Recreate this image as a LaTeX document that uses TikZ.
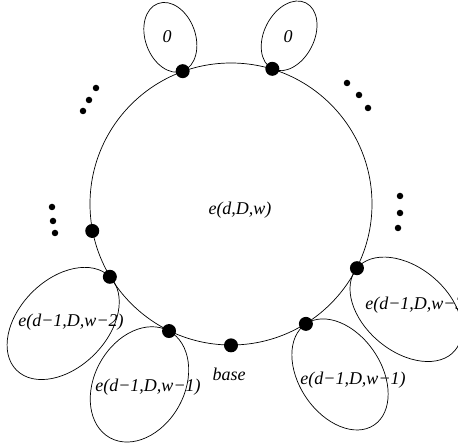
\documentclass[tikz,border=0pt]{standalone}
\usepackage{fontspec}
\setmainfont{Liberation Serif}
\usetikzlibrary{shapes.geometric, calc}

\tikzset{
  bigdot/.style={circle, fill=black, minimum size=14pt, inner sep=0pt},
  smalldot/.style={circle, fill=black, minimum size=6.5pt, inner sep=0pt},
  lobe/.style={draw, ellipse, inner sep=0pt, line width=0.7pt},
  lab/.style={font=\fontsize{18}{20}\selectfont\itshape, inner sep=0pt}
}

\begin{document}
\begin{tikzpicture}[x=1pt, y=1pt, line width=0.7pt]
  \useasboundingbox (0,0) rectangle (458,442);
  \clip (0,0) rectangle (458,442);
  % main ring
  \node[draw, circle, minimum size=282pt, inner sep=0pt, line width=0.7pt] (ring) at (231,238) {};
  % lobes hanging on the ring
  \node[lobe, minimum width=72pt, minimum height=50pt, rotate=110] (z1) at ($(ring.110)+(110:36)$) {};
  \node[lobe, minimum width=74pt, minimum height=50pt, rotate=63] (z2) at ($(ring.73.5)+(63:37)$) {};
  \node[lobe, minimum width=132pt, minimum height=88pt, rotate=45] (e2) at ($(ring.211.7)+(225:66)$) {};
  \node[lobe, minimum width=122pt, minimum height=90pt, rotate=61] (e1) at ($(ring.244)+(241:61)$) {};
  \node[lobe, minimum width=122pt, minimum height=82pt, rotate=124] (f1) at ($(ring.302)+(304:61)$) {};
  \node[lobe, minimum width=128pt, minimum height=84pt, rotate=140] (f3) at ($(ring.333)+(320:64)$) {};
  % attachment points
  \node[bigdot] (d1) at (ring.110) {};
  \node[bigdot] (d2) at (ring.73.5) {};
  \node[bigdot] (d3) at (ring.191.5) {};
  \node[bigdot] (d4) at (ring.211.7) {};
  \node[bigdot] (d5) at (ring.244) {};
  \node[bigdot] (base) at (ring.270) {};
  \node[bigdot] (d7) at (ring.302) {};
  \node[bigdot] (d8) at (ring.333) {};
  % labels
  \node[lab] (ringlab) at (240,232) {e(d,D,w)};
  \node[lab] (z1lab) at (167,405) {0};
  \node[lab] (z2lab) at (288,405) {0};
  \node[lab] (e2lab) at (71,120) {e(d−1,D,w−2)};
  \node[lab] (e1lab) at (148,55) {e(d−1,D,w−1)};
  \node[lab] (f1lab) at (353,62) {e(d−1,D,w−1)};
  \node[lab, anchor=west] (f3lab) at (365,137) {e(d−1,D,w−3)};
  \node[lab] (baselab) at (229,68) {base};
  % ellipsis dots
  \foreach \p in {(96,354), (89,342), (83,331), (347,359), (359,347), (368,334),
                  (52,235), (53,221), (55,209), (400,246), (400,229), (398,214)}
    \node[smalldot] at \p {};
\end{tikzpicture}
\end{document}
